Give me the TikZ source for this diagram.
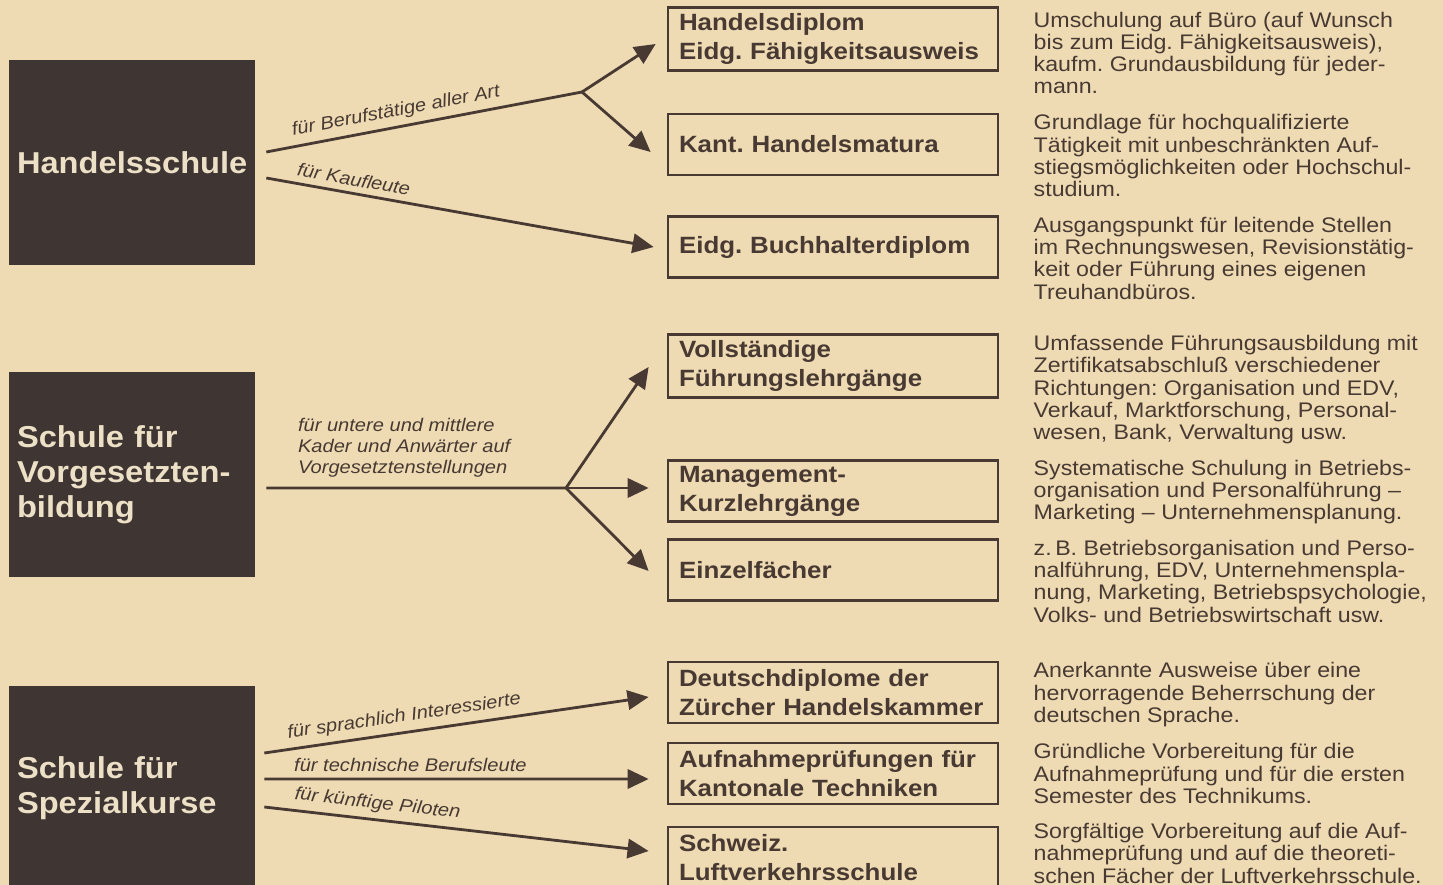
\documentclass[tikz,border=0pt]{standalone}
\usepackage{fontspec}
\setmainfont{Liberation Sans}
\newfontfamily\descfont[FakeStretch=1.1]{Liberation Sans}
\newfontfamily\labelfont[FakeStretch=1.1]{Liberation Sans}
\newfontfamily\schoolfont[FakeStretch=1.08]{Liberation Sans}
\usetikzlibrary{arrows.meta, positioning, calc}
\frenchspacing

\definecolor{paper}{RGB}{238,219,180}
\definecolor{ink}{RGB}{72,58,50}
\definecolor{slab}{RGB}{63,53,51}
\definecolor{slabtext}{RGB}{236,224,198}

\begin{document}
\begin{tikzpicture}[x=0.02cm, y=-0.02cm,
                school/.style={fill=slab, text=slabtext, minimum width=4.92cm, minimum height=4.1cm,
                    inner xsep=0.16cm, text width=4.6cm, align=left,
                    font=\schoolfont\bfseries\fontsize{17.2}{19.8}\selectfont},
                course/.style={draw=ink, line width=1.6pt, text=ink, minimum width=6.6cm, minimum height=1.22cm,
                    inner xsep=0.22cm, text width=6.16cm, align=left,
                    font=\labelfont\bfseries\fontsize{13.4}{16.4}\selectfont},
                note/.style={text=ink, inner sep=0pt, align=left,
                    font=\descfont\fontsize{12}{12.65}\selectfont},
                trunk/.style={draw=ink, line width=1.6pt},
                route/.style={trunk, -{Triangle[length=12pt, width=11pt]}},
                via/.style={text=ink, font=\labelfont\itshape\fontsize{10.4}{11.9}\selectfont}]
                \useasboundingbox (0,0) rectangle (1443,885);
                \fill[paper] (0,0) rectangle (1443,885);

                % Schools on the left
                \node[school] (hs) at (132,162.5) {Handelsschule};
                \node[school] (vg) at (132,474.5) {Schule für\\Vorgesetzten-\\bildung};
                \node[school] (sk) at (132,788.5) {Schule für\\Spezialkurse};

                % Courses - one column
                \node[course] (hd) at (833,39) {Handelsdiplom\\Eidg. Fähigkeitsausweis};
                \node[course] (hm) at (833,144.5) {Kant. Handelsmatura};
                \node[course] (bh) at (833,247) {Eidg. Buchhalterdiplom};
                \node[course] (vl) at (833,366) {Vollständige\\Führungslehrgänge};
                \node[course] (mk) at (833,491) {Management-\\Kurzlehrgänge};
                \node[course] (ef) at (833,570) {Einzelfächer};
                \node[course] (dd) at (833,692.5) {Deutschdiplome der\\\mbox{Zürcher Handelskammer}};
                \node[course] (ap) at (833,773.5) {Aufnahmeprüfungen für\\Kantonale Techniken};
                \node[course] (lv) at (833,857.5) {Schweiz.\\Luftverkehrsschule};

                % Notes next to each course
                \node[note, below right=3pt and 0.68cm of hd.north east] (hd-note)
                    {Umschulung auf Büro (auf Wunsch\\bis zum Eidg. Fähigkeitsausweis),\\kaufm. Grundausbildung für jeder-\\mann.};
                \node[note, below right=1pt and 0.68cm of hm.north east] (hm-note)
                    {Grundlage für hochqualifizierte\\Tätigkeit mit unbeschränkten Auf-\\stiegsmöglichkeiten oder Hochschul-\\studium.};
                \node[note, below right=1pt and 0.68cm of bh.north east] (bh-note)
                    {Ausgangspunkt für leitende Stellen\\im Rechnungswesen, Revisionstätig-\\keit oder Führung eines eigenen\\Treuhandbüros.};
                \node[note, below right=1pt and 0.68cm of vl.north east] (vl-note)
                    {Umfassende Führungsausbildung mit\\Zertifikatsabschluß verschiedener\\Richtungen: Organisation und EDV,\\Verkauf, Marktforschung, Personal-\\wesen, Bank, Verwaltung usw.};
                \node[note, below right=0.5pt and 0.68cm of mk.north east] (mk-note)
                    {Systematische Schulung in Betriebs-\\organisation und Personalführung –\\Marketing – Unternehmensplanung.};
                \node[note, below right=1pt and 0.68cm of ef.north east] (ef-note)
                    {z.\,B. Betriebsorganisation und Perso-\\nalführung, EDV, Unternehmenspla-\\nung, Marketing, Betriebspsychologie,\\Volks- und Betriebswirtschaft usw.};
                \node[note, below right=1pt and 0.68cm of dd.north east] (dd-note)
                    {Anerkannte Ausweise über eine\\hervorragende Beherrschung der\\deutschen Sprache.};
                \node[note, below right=1pt and 0.68cm of ap.north east] (ap-note)
                    {Gründliche Vorbereitung für die\\Aufnahmeprüfung und für die ersten\\Semester des Technikums.};
                \node[note, below right=-1.5pt and 0.68cm of lv.north east] (lv-note)
                    {Sorgfältige Vorbereitung auf die Auf-\\nahmeprüfung und auf die theoreti-\\schen Fächer der Luftverkehrsschule.};

                % Handelsschule - one fork, one straight route
                \coordinate (hs-fork) at (582,92);
                \draw[trunk] ([shift={(11,-10.5)}]hs.east) -- (hs-fork)
                    node[via, sloped, above, pos=0.42] {für Berufstätige aller Art};
                \draw[route] (hs-fork) -- ([shift={(-11,5)}]hd.west);
                \draw[route] (hs-fork) -- ([shift={(-16,7.5)}]hm.west);
                \draw[route] ([shift={(11,15.5)}]hs.east) -- ([shift={(-13,0)}]bh.west)
                    node[via, sloped, above, pos=0.22] {für Kaufleute};

                % Vorgesetztenbildung - three-way fork
                \coordinate (vg-fork) at (566,488);
                \draw[trunk] ([shift={(11,13.5)}]vg.east) -- (vg-fork)
                    node[via, above=2pt, pos=0.46, align=left] {für untere und mittlere\\Kader und Anwärter auf\\Vorgesetztenstellungen};
                \draw[route] (vg-fork) -- ([shift={(-18,1)}]vl.west);
                \draw[route] (vg-fork) -- ([shift={(-18,-3)}]mk.west);
                \draw[route] (vg-fork) -- ([shift={(-18,1)}]ef.west);

                % Spezialkurse - three separate routes
                \draw[route] ([shift={(9,-35.5)}]sk.east) -- ([shift={(-18,4.5)}]dd.west)
                    node[via, sloped, above, pos=0.37] {für sprachlich Interessierte};
                \draw[route] ([shift={(9,-9.5)}]sk.east) -- ([shift={(-18,5.5)}]ap.west)
                    node[via, above, pos=0.38] {für technische Berufsleute};
                \draw[route] ([shift={(9,18.5)}]sk.east) -- ([shift={(-18,-6.5)}]lv.west)
                    node[via, sloped, above, pos=0.29] {für künftige Piloten};
            \end{tikzpicture}
\end{document}
